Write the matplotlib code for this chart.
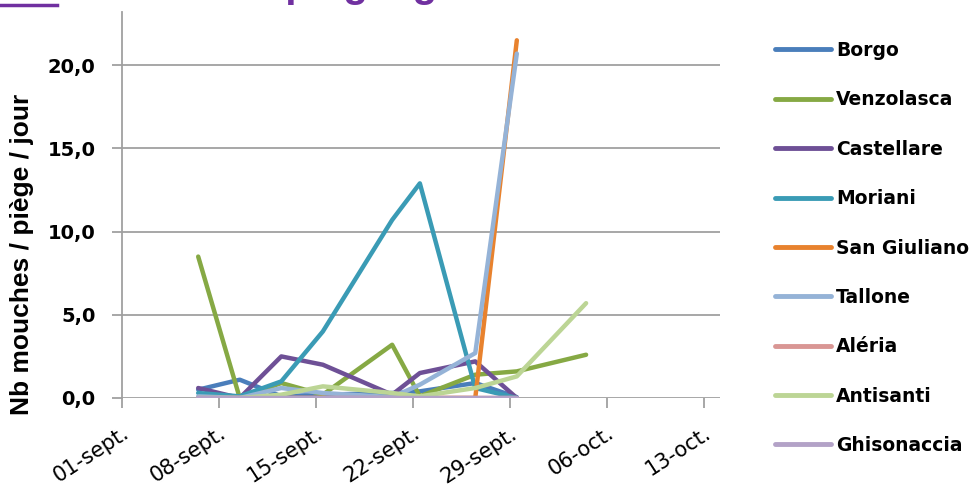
import datetime as dt
import numpy as np
import matplotlib
matplotlib.use("Agg")
import matplotlib.pyplot as plt
import matplotlib.transforms as mtrans

# sampling dates (year irrelevant)
dates = [dt.datetime(2013, 9, 6), dt.datetime(2013, 9, 9), dt.datetime(2013, 9, 12),
         dt.datetime(2013, 9, 15), dt.datetime(2013, 9, 20), dt.datetime(2013, 9, 22),
         dt.datetime(2013, 9, 26), dt.datetime(2013, 9, 29), dt.datetime(2013, 10, 4)]

nan = np.nan
borgo = [0.5, 1.1, 0.1, 0.2, 0.3, 0.4, 0.9, 0.05, nan]
venzolasca = [8.5, 0.0, 0.9, 0.2, 3.2, 0.1, 1.4, 1.6, 2.6]
castellare = [0.6, 0.0, 2.5, 2.0, 0.2, 1.5, 2.2, 0.0, nan]
moriani = [0.3, 0.1, 1.0, 4.0, 10.7, 12.9, 0.6, 0.0, nan]
san_giuliano = [0, 0, 0, 0, 0, 0, 0, 21.5, nan]
tallone = [0.1, 0.0, 0.6, 0.3, 0.05, 0.8, 2.7, 20.7, nan]
aleria = [0, 0, 0, 0, 0, 0, 0, 0, nan]
antisanti = [0.0, 0.0, 0.2, 0.7, 0.3, 0.1, 0.6, 1.3, 5.7]
ghisonaccia = [0, 0, 0, 0, 0, 0, 0, 0, nan]

series = [("Borgo", borgo, "#4A7EBB"),
          ("Venzolasca", venzolasca, "#86A944"),
          ("Castellare", castellare, "#6E5096"),
          ("Moriani", moriani, "#3A9BB5"),
          ("San Giuliano", san_giuliano, "#E8822E"),
          ("Tallone", tallone, "#95B3D7"),
          ("Aléria", aleria, "#D99694"),
          ("Antisanti", antisanti, "#BCD595"),
          ("Ghisonaccia", ghisonaccia, "#B3A2C7")]

tick_dates = [dt.datetime(2013, 9, 1) + dt.timedelta(days=7 * i) for i in range(7)]
tick_labels = ["01-sept.", "08-sept.", "15-sept.", "22-sept.", "29-sept.", "06-oct.", "13-oct."]
y_ticks = [0, 5, 10, 15, 20]
y_labels = ["0,0", "5,0", "10,0", "15,0", "20,0"]

fig = plt.figure(figsize=(9.75, 5.04), dpi=100)
ax = fig.add_axes([122 / 975, 106 / 504, 598 / 975, 386 / 504])

# excel date axis: a point sits in the middle of its day
shift = dt.timedelta(hours=12)
xs = [d + shift for d in dates]
for name, vals, col in series:
    ax.plot(xs, vals, color=col, lw=3.2, label=name, solid_capstyle="round",
            solid_joinstyle="round")

ax.set_xlim(dt.datetime(2013, 9, 1), dt.datetime(2013, 10, 14, 4))
ax.set_ylim(0, 23.2)
ax.set_xticks(tick_dates)
ax.set_xticklabels(tick_labels, rotation=33, ha="right", va="top",
                   rotation_mode="anchor", fontsize=15, family="DejaVu Sans")
off = mtrans.ScaledTranslation(21 / 100, 0, fig.dpi_scale_trans)
for lab in ax.get_xticklabels():
    lab.set_transform(lab.get_transform() + off)
ax.set_yticks(y_ticks)
ax.set_yticklabels(y_labels, fontsize=14, family="DejaVu Sans", fontweight="bold")

ax.grid(axis="y", color="#A0A0A0", lw=1.3)
ax.set_axisbelow(True)
for s in ["top", "right", "bottom"]:
    ax.spines[s].set_visible(False)
ax.spines["left"].set_color("#A0A0A0")
ax.spines["left"].set_linewidth(1.3)
ax.tick_params(axis="both", color="#A0A0A0", width=1.3, length=7)
ax.tick_params(axis="y", pad=12)
ax.tick_params(axis="x", pad=11)

fig.text(22 / 975, 1 - 254 / 504, "Nb mouches / piège / jour", rotation=90,
         ha="center", va="center", fontsize=19, fontweight="bold",
         family="Liberation Sans")

leg = fig.legend(loc="upper left", bbox_to_anchor=(775 / 975, 1 - 41 / 504),
                 frameon=False, handlelength=3.0, handletextpad=0.27,
                 labelspacing=1.62, borderpad=0, borderaxespad=0,
                 prop={"family": "DejaVu Sans", "weight": "bold", "size": 13.5})
for l in leg.get_lines():
    l.set_linewidth(3.5)

# partly cropped heading at top of the picture
fig.text(118 / 975, 1 + 3 / 504, "Suivi du piégeage de la mouche de l'olive en Corse",
         ha="left", va="baseline", fontsize=29, fontweight="bold",
         color="#7030A0", family="Liberation Sans")
fig.add_artist(plt.Line2D([0, 57 / 975], [1 - 4.5 / 504, 1 - 4.5 / 504],
                          color="#7030A0", lw=2.5))

fig.savefig("out.png", dpi=100)
